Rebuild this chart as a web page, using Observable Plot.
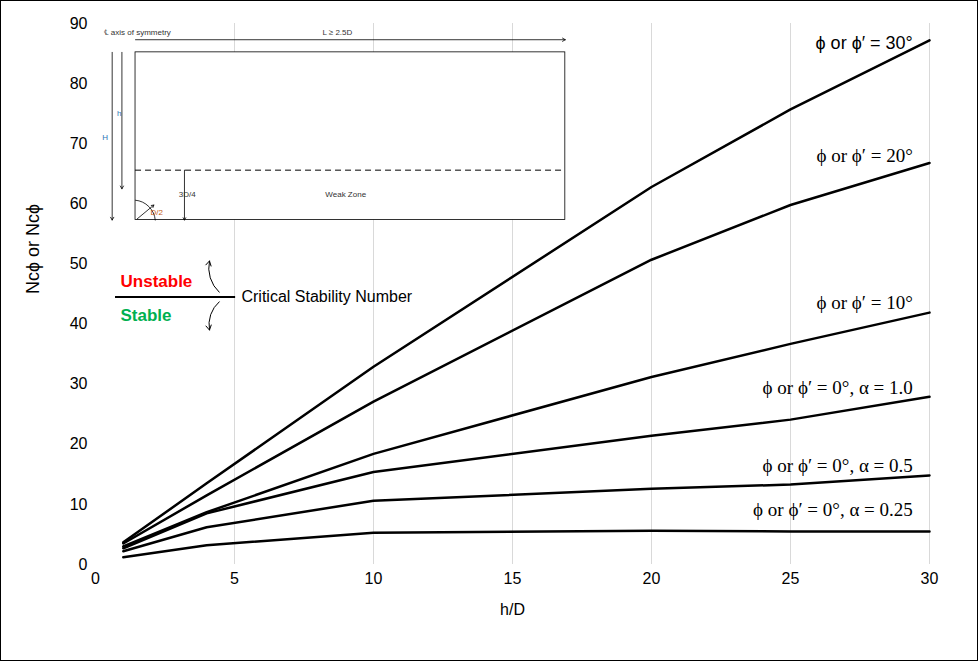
<!DOCTYPE html>
<html><head><meta charset="utf-8">
<script src="https://cdn.jsdelivr.net/npm/d3@7"></script>
<script src="https://cdn.jsdelivr.net/npm/@observablehq/plot@0.6"></script>
<style>body{margin:0;background:#fff}#c{width:978px;height:661px;box-sizing:border-box;border:1.5px solid #000}</style>
</head><body><div id="c"></div>
<script>
const hD = [1, 4, 10, 20, 25, 30];
const series = [
  { name: 'ϕ or ϕ′ = 30°', values: [3.7, 13.5, 32.9, 62.8, 75.7, 87.2], ly: 86.7, serif: false },
  { name: 'ϕ or ϕ′ = 20°', values: [3.5, 11.5, 27.1, 50.7, 59.8, 66.8], ly: 68, serif: true },
  { name: 'ϕ or ϕ′ = 10°', values: [3.0, 8.7, 18.4, 31.2, 36.7, 41.9], ly: 43.5, serif: true },
  { name: 'ϕ or ϕ′ = 0°, α = 1.0', values: [2.7, 8.5, 15.4, 21.4, 24.1, 27.9], ly: 29.4, serif: true },
  { name: 'ϕ or ϕ′ = 0°, α = 0.5', values: [2.2, 6.2, 10.6, 12.6, 13.3, 14.8], ly: 16.4, serif: true },
  { name: 'ϕ or ϕ′ = 0°, α = 0.25', values: [1.2, 3.2, 5.3, 5.6, 5.5, 5.5], ly: 9.1, serif: true }
];
const xTicks = [0, 5, 10, 15, 20, 25, 30];
const yTicks = [0, 10, 20, 30, 40, 50, 60, 70, 80, 90];

// inset sketch (in chart units)
const insetBox = { x1: 1.44, x2: 16.9, y1: 57.3, y2: 85.2 };
const insetDash = 65.6;
const insetNotes = [
  { x: 1.5, y: 88.5, t: '℄ axis of symmetry', a: 'start', c: '#333' },
  { x: 8.7, y: 88.5, t: 'L ≥ 2.5D', a: 'middle', c: '#333' },
  { x: 0.35, y: 71, t: 'H', a: 'middle', c: '#2e75b6' },
  { x: 0.85, y: 75, t: 'h', a: 'middle', c: '#2e75b6' },
  { x: 3.3, y: 61.5, t: '3D/4', a: 'start', c: '#333' },
  { x: 9, y: 61.5, t: 'Weak Zone', a: 'middle', c: '#333' },
  { x: 2.2, y: 58.5, t: 'D/2', a: 'middle', c: '#c55a11' }
];

const rows = series.flatMap(s => hD.map((h, i) => ({ s: s.name, h, v: s.values[i] })));

const chart = Plot.plot({
  width: 975, height: 658,
  marginLeft: 94, marginRight: 47, marginTop: 22, marginBottom: 95,
  style: { fontFamily: 'Liberation Sans, Arial, sans-serif', fontSize: '16px', color: '#000', background: '#fff' },
  x: { domain: [0, 30], ticks: xTicks, label: 'h/D', labelArrow: 'none' },
  y: { domain: [0, 90], ticks: yTicks, label: null },
  marks: [
    Plot.ruleX(xTicks.slice(1), { stroke: '#d9d9d9' }),
    Plot.axisX({ ticks: xTicks, tickSize: 0, tickPadding: 8, fontSize: 16, label: 'h/D', labelArrow: 'none', labelAnchor: 'center', labelOffset: 50 }),
    Plot.axisY({ ticks: yTicks, tickSize: 0, tickPadding: 8, fontSize: 16, label: null }),
    Plot.text(['Nc\u03d5 or Nc\u03d5'], { frameAnchor: 'left', rotate: -90, dx: -62, fontSize: 18 }),
    Plot.line(rows, { x: 'h', y: 'v', z: 's', stroke: '#000', strokeWidth: 2.5 }),
    Plot.text(series.filter(d => !d.serif), { x: 29.4, y: 'ly', text: 'name', textAnchor: 'end', fontSize: 18 }),
    Plot.text(series.filter(d => d.serif), { x: 29.4, y: 'ly', text: 'name', textAnchor: 'end', fontSize: 19, fontFamily: 'Liberation Serif, Times New Roman, serif' }),
    // inset
    Plot.rect([insetBox], { x1: 'x1', x2: 'x2', y1: 'y1', y2: 'y2', fill: '#fff', stroke: '#000', strokeWidth: 0.8 }),
    Plot.ruleY([insetDash], { x1: insetBox.x1, x2: insetBox.x2, stroke: '#000', strokeDasharray: '6,4' }),
    Plot.arrow([{ a: insetBox.x1, b: insetBox.x2 }], { x1: 'a', x2: 'b', y1: 87.3, y2: 87.3, strokeWidth: 0.8, headLength: 6 }),
    Plot.arrow([{ y1: insetBox.y2, y2: insetBox.y1 }], { x1: 0.6, x2: 0.6, y1: 'y1', y2: 'y2', strokeWidth: 0.8, headLength: 6 }),
    Plot.arrow([{ y1: insetBox.y2, y2: 62.5 }], { x1: 0.95, x2: 0.95, y1: 'y1', y2: 'y2', strokeWidth: 0.8, headLength: 6 }),
    Plot.arrow([{ y1: insetDash, y2: insetBox.y1 }], { x1: 3.2, x2: 3.2, y1: 'y1', y2: 'y2', strokeWidth: 0.8, headLength: 5 }),
    Plot.arrow([{ a: 1.5 }], { x1: 'a', y1: 57.5, x2: 2.1, y2: 59.8, strokeWidth: 0.8, headLength: 5 }),
    Plot.arrow([{ a: 2.15 }], { x1: 1.44, y1: 60.6, x2: 'a', y2: 57.3, bend: 40, stroke: '#000', strokeWidth: 0.8, headLength: 0 }),
    Plot.text(insetNotes, { x: 'x', y: 'y', text: 't', textAnchor: 'a', fontSize: 8, fill: 'c' }),
    // stability legend
    Plot.ruleY([44.5], { x1: 0.72, x2: 5.04, stroke: '#000', strokeWidth: 2 }),
    Plot.text(['Unstable'], { x: 0.9, y: 47, textAnchor: 'start', fill: '#ff0000', fontWeight: 'bold', fontSize: 17 }),
    Plot.text(['Stable'], { x: 0.9, y: 41.4, textAnchor: 'start', fill: '#00b050', fontWeight: 'bold', fontSize: 17 }),
    Plot.text(['Critical Stability Number'], { x: 5.25, y: 44.5, textAnchor: 'start', fontSize: 16 }),
    Plot.arrow([{ a: 4.45 }], { x1: 'a', y1: 45.3, x2: 4.1, y2: 50.5, bend: 30, strokeWidth: 1, headLength: 8 }),
    Plot.arrow([{ a: 4.45 }], { x1: 'a', y1: 43.7, x2: 4.1, y2: 39, bend: -30, strokeWidth: 1, headLength: 8 })
  ]
});
document.getElementById('c').appendChild(chart);
</script></body></html>
